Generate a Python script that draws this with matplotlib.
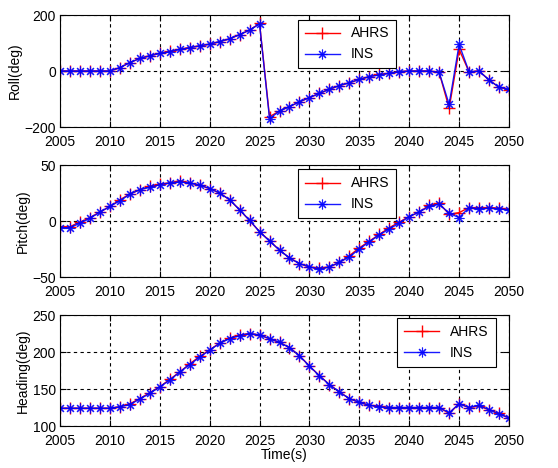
import numpy as np
import matplotlib
matplotlib.use("Agg")
import matplotlib.pyplot as plt

plt.rcParams["font.family"] = ["Liberation Sans", "DejaVu Sans"]
plt.rcParams["font.size"] = 10

# -----------------------------
# Data
# -----------------------------
time_s = list(range(2005, 2051))

roll_ins = [0, 0, 0, 0, 0, 0, 12, 30, 45, 54, 63, 69, 77, 83, 90, 96, 105, 115, 130, 146,
            168, -170, -143, -127, -110, -95, -80, -65, -52, -42, -30, -20, -14, -8, -2, 0,
            0, 0, -5, -119, 95, -3, 0, -32, -58, -65]
roll_ahrs = [0, 0, 0, 0, 0, 0, 12, 30, 45, 55, 63, 70, 78, 84, 90, 96, 105, 115, 130, 146,
             170, -163, -143, -127, -110, -95, -80, -65, -52, -42, -30, -20, -12, -8, -2, 0,
             0, 0, -5, -133, 77, -3, 0, -32, -58, -67]

pitch_ins = [-6, -6, -2, 2.4, 8, 13, 18, 24, 28, 30, 32.5, 34, 35, 34, 32, 29, 25, 19, 10, 0.5,
             -9.5, -18, -26, -33, -38, -41, -43, -41, -37, -32, -25, -18.5, -12.5, -7, -2, 4,
             8, 13, 15, 7, 3, 12, 11, 11.5, 11, 10]
pitch_ahrs = [-5, -5, -1, 3, 8, 13, 19, 24, 28, 31, 33, 34, 36, 34, 32, 29, 25, 19, 10, 0.5,
              -9.5, -17.6, -26, -33, -38, -41, -42, -41, -37, -31, -24, -18, -12, -6, -1, 4,
              8, 14, 16, 6, 7.5, 12, 12, 12, 11.5, 10.5]

heading_ins = [124, 124, 124, 124, 124, 124, 126, 129, 136.5, 144, 153, 162, 173, 183, 193,
               202.6, 211.6, 218, 222, 225, 223, 218, 213, 206, 195, 181, 168, 156, 146, 137,
               132, 128, 126, 125, 125, 125, 125, 125, 125, 118, 130, 125, 128, 122, 116, 111]
heading_ahrs = [124, 124, 124, 124, 124, 124, 126, 130, 137, 145, 153, 163, 173, 184, 194,
                203, 212, 219, 223, 225, 223, 218, 213, 206, 195, 181, 168, 156, 146, 137,
                132, 128, 127, 125, 125, 125, 125, 125, 125, 117, 130, 125, 127, 122, 117, 111]

# -----------------------------
# Figure
# -----------------------------
fig = plt.figure(figsize=(5.58, 4.68), dpi=100)

panels = [
    (roll_ahrs, roll_ins, "Roll(deg)", (-200, 200), [-200, 0, 200], 0.7286, 0.2393, (0.53, 0.96), "upper left"),
    (pitch_ahrs, pitch_ins, "Pitch(deg)", (-50, 50), [-50, 0, 50], 0.4081, 0.2393, (0.53, 0.96), "upper left"),
    (heading_ahrs, heading_ins, "Heading(deg)", (100, 250), [100, 150, 200, 250], 0.0897, 0.2372, (0.97, 0.97), "upper right"),
]

for ahrs, ins, ylabel, ylim, yticks, bottom, height, leg_pos, leg_loc in panels:
    ax = fig.add_axes([0.1075, bottom, 0.8047, height])
    ax.plot(time_s, ahrs, color="red", marker="+", markersize=8, markeredgewidth=1,
            linewidth=1, label="AHRS")
    ax.plot(time_s, ins, color="blue", marker=(8, 2, 0), markersize=7, markeredgewidth=0.8,
            linewidth=1, label="INS", alpha=0.9)
    ax.set_xlim(2005, 2050)
    ax.set_ylim(*ylim)
    ax.set_yticks(yticks)
    ax.set_xticks(range(2005, 2051, 5))
    ax.set_ylabel(ylabel, labelpad=2)
    ax.grid(True, color="black", linestyle=(0, (3, 3)), linewidth=0.8)
    ax.tick_params(direction="in", top=True, right=True, length=4)
    ax.tick_params(axis="x", pad=6)
    ax.tick_params(axis="y", pad=3)
    leg = ax.legend(loc=leg_loc, bbox_to_anchor=leg_pos, fancybox=False, framealpha=1,
                    edgecolor="black", borderaxespad=0, handlelength=2.5, borderpad=0.5)
    leg.get_frame().set_linewidth(0.8)
    if ylabel == "Heading(deg)":
        ax.set_xlabel("Time(s)", labelpad=0)

fig.savefig("out.png", dpi=100)
